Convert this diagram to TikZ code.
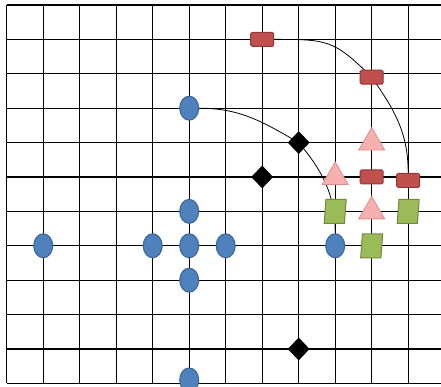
\documentclass[tikz,border=0pt]{standalone}
\usetikzlibrary{shapes.geometric,backgrounds}

\definecolor{ovalblue}{HTML}{4F81BD}
\definecolor{ovalblueedge}{HTML}{3A6396}
\definecolor{boxred}{HTML}{C0504D}
\definecolor{boxrededge}{HTML}{943634}
\definecolor{tripink}{HTML}{F6B0B0}
\definecolor{tripinkedge}{HTML}{E08A8A}
\definecolor{paragreen}{HTML}{9BBB59}
\definecolor{paragreenedge}{HTML}{71893F}

\begin{document}
\begin{tikzpicture}[x=36.5pt,y=-34.4pt]
\tikzset{
  gridline/.style={draw=black,line width=1.3pt},
  pathline/.style={draw=black,line width=0.8pt,line cap=round},
  bluedot/.style={ellipse,fill=ovalblue,draw=ovalblueedge,line width=1pt,minimum width=19pt,minimum height=24pt,inner sep=0pt},
  blackdia/.style={diamond,fill=black,minimum width=22pt,minimum height=23pt,inner sep=0pt},
  redbox/.style={rectangle,rounded corners=1.5pt,fill=boxred,draw=boxrededge,line width=1pt,minimum width=23pt,minimum height=14pt,inner sep=0pt},
  pinktri/.style={regular polygon,regular polygon sides=3,fill=tripink,draw=tripinkedge,line width=0.8pt,minimum size=30pt,inner sep=0pt},
  greenpara/.style={trapezium,trapezium left angle=66,trapezium right angle=114,trapezium stretches body,fill=paragreen,draw=paragreenedge,line width=1pt,minimum width=22pt,minimum height=24pt,inner sep=2pt}
}
\useasboundingbox (-0.1836,-0.1453) rectangle (11.899,11.105);
% blue ovals
\node[bluedot] (n_oval_0) at (5,3) {};
\node[bluedot] (n_oval_1) at (5,6) {};
\node[bluedot] (n_oval_2) at (1,7) {};
\node[bluedot] (n_oval_3) at (4,7) {};
\node[bluedot] (n_oval_4) at (5,7) {};
\node[bluedot] (n_oval_5) at (6,7) {};
\node[bluedot] (n_oval_6) at (9,7) {};
\node[bluedot] (n_oval_7) at (5,8) {};
\node[bluedot] (n_oval_8) at (5,10.9) {};
% black diamonds
\node[blackdia] (n_dia_0) at (8,4) {};
\node[blackdia] (n_dia_1) at (7,5) {};
\node[blackdia] (n_dia_2) at (8,10) {};
% red boxes
\node[redbox] (n_box_0) at (7,1) {};
\node[redbox] (n_box_1) at (10,2.1) {};
\node[redbox] (n_box_2) at (10,5) {};
\node[redbox] (n_box_3) at (11,5.1) {};
% pink triangles
\node[pinktri] (n_tri_0) at (10,4) {};
\node[pinktri] (n_tri_1) at (9,5) {};
\node[pinktri] (n_tri_2) at (10,6) {};
% green parallelograms
\node[greenpara] (n_para_0) at (9,6) {};
\node[greenpara] (n_para_1) at (11,6) {};
\node[greenpara] (n_para_2) at (10,7) {};
\begin{pgfonlayer}{background}
\foreach \i in {0,...,11}
  \draw[gridline] (\i,0) -- (\i,11);
\foreach \j in {0,...,11}
  \draw[gridline] (0,\j) -- (11.899,\j);
\draw[pathline] (n_oval_0.east) to[out=0,in=150] (n_dia_0.center) to[out=-50,in=90] (n_oval_6.north);
\draw[pathline] (n_box_0.east) to[out=0,in=135,looseness=1.3] (n_box_1.center) to[out=-55,in=90] (n_box_3.north);
\end{pgfonlayer}
\end{tikzpicture}
\end{document}
